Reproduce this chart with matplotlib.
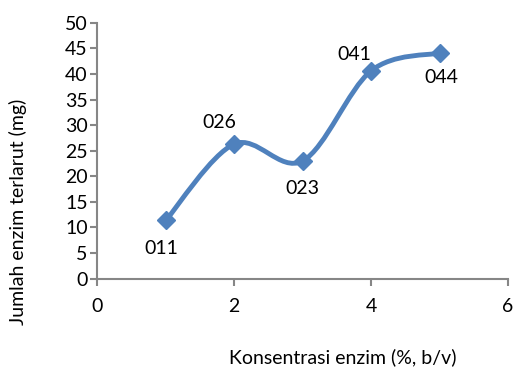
import numpy as np
import matplotlib.pyplot as plt
from matplotlib.path import Path
from matplotlib.patches import PathPatch

plt.rcParams['font.family'] = ['Lato', 'DejaVu Sans']

konsentrasi = [1, 2, 3, 4, 5]
jumlah = [11.4, 26.3, 23.0, 40.6, 44.1]
label_titik = ["011", "026", "023", "041", "044"]
# offset of each data label, in pixels
label_offset = [(-4, -28), (-15, 22), (0, -28), (-17, 16), (2, -25)]

x_ticks = [0, 2, 4, 6]
y_ticks = list(range(0, 51, 5))

biru = '#4F81BD'
abu = '#868686'

fig = plt.figure(figsize=(5.15, 3.71), dpi=100)
ax = fig.add_axes([0.189, 0.2488, 0.7974, 0.69])

# smooth line like excel (catmull-rom bezier)
pts = np.column_stack([konsentrasi, jumlah]).astype(float)
verts = [pts[0]]
codes = [Path.MOVETO]
n = len(pts)
for i in range(n - 1):
    p0 = pts[i - 1] if i > 0 else pts[i]
    p1 = pts[i]
    p2 = pts[i + 1]
    p3 = pts[i + 2] if i + 2 < n else pts[i + 1]
    c1 = p1 + (p2 - p0) / 6
    c2 = p2 - (p3 - p1) / 6
    verts += [c1, c2, p2]
    codes += [Path.CURVE4] * 3
ax.add_patch(PathPatch(Path(verts, codes), facecolor='none', edgecolor=biru,
                       lw=3.5, capstyle='round', joinstyle='round', zorder=2))

ax.plot(konsentrasi, jumlah, linestyle='none', marker='D', markersize=9,
        color=biru, markeredgecolor=biru, zorder=3)

for x, y, t, off in zip(konsentrasi, jumlah, label_titik, label_offset):
    ax.annotate(t, (x, y), xytext=off, textcoords='offset pixels',
                ha='center', va='center', fontsize=14)

ax.set_xlim(0, 6)
ax.set_ylim(0, 50)
ax.set_xticks(x_ticks)
ax.set_yticks(y_ticks)
ax.spines['top'].set_visible(False)
ax.spines['right'].set_visible(False)
for s in ['left', 'bottom']:
    ax.spines[s].set_color(abu)
    ax.spines[s].set_linewidth(1.5)
ax.tick_params(direction='out', length=5, width=1.5, color=abu,
               labelsize=14, labelcolor='black')
ax.tick_params(axis='x', pad=9)
ax.tick_params(axis='y', pad=2)

fig.text(18 / 515, 1 - 212 / 371, 'Jumlah enzim terlarut (mg)', rotation=90,
         ha='center', va='center', fontsize=14)
fig.text(343 / 515, 1 - 357 / 371, 'Konsentrasi enzim (%, b/v)',
         ha='center', va='center', fontsize=14)

fig.savefig('out.png', dpi=100)
